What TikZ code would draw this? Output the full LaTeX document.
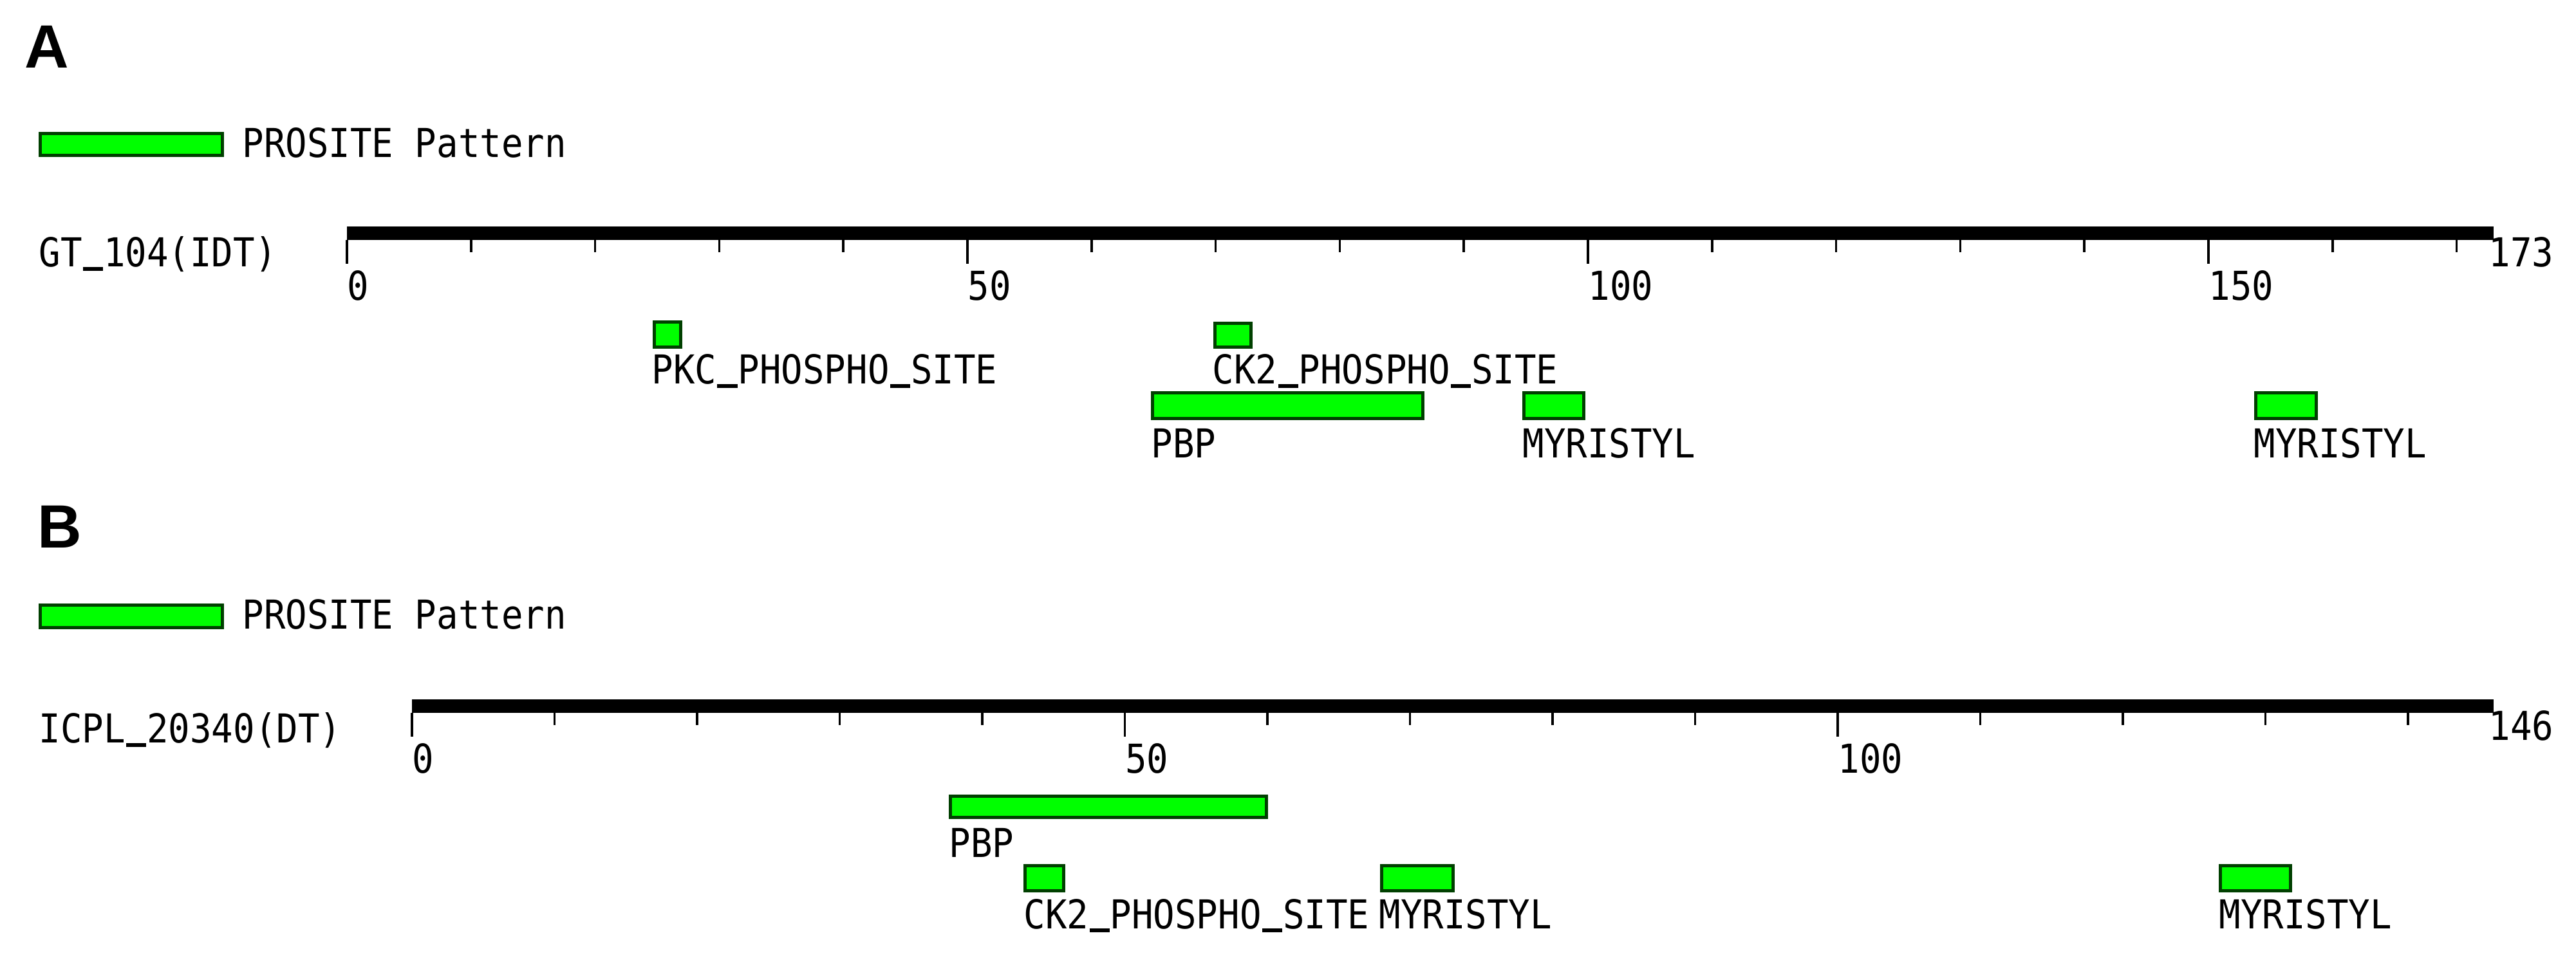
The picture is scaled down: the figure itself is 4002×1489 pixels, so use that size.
\documentclass[tikz,border=0pt]{standalone}
\usepackage{fontspec}
\setmonofont{DejaVu Sans Mono}
\newfontfamily\panelfont{Liberation Sans}
\definecolor{featfill}{RGB}{0,255,0}
\definecolor{featline}{RGB}{0,64,0}
\newcommand{\mtxt}[1]{\scalebox{0.9}[1]{#1}}
\newcommand{\us}{\makebox[0.602em][c]{\rule[-0.09em]{0.56em}{0.09em}}}
\tikzset{
  px/.style={x=0.01cm,y=-0.01cm},
  feat/.style={fill=featfill,draw=featline,line width=0.05cm},
  lbl/.style={anchor=base west,inner sep=0pt,font=\ttfamily\fontsize{17.6}{17.6}\selectfont},
  panel/.style={anchor=base west,inner sep=0pt,font=\panelfont\bfseries\fontsize{27}{27}\selectfont},
  axisbar/.style={fill=black,draw=none},
  tick/.style={line width=0.035cm,black}
}
\begin{document}
\begin{tikzpicture}[px]
\useasboundingbox[fill=white] (0,0) rectangle (4002,1489);

% ================= Panel A =================
\node[panel] (pA) at (38,106) {A};
\draw[feat] (62.5,207.5) rectangle (345.5,241.5);
\node[lbl] (legA) at (376,245) {\mtxt{PROSITE Pattern}};
\node[lbl] (nameA) at (60,415) {\mtxt{GT\us104(IDT)}};
% axis
\fill[axisbar] (539,352) rectangle (3874,373);
\foreach \k in {0,10,...,170}{
  \pgfmathsetmacro{\xx}{539+19.28*\k}
  \draw[tick] (\xx,373) -- (\xx,392);
}
\foreach \k in {0,50,100,150}{
  \pgfmathsetmacro{\xx}{539+19.28*\k}
  \draw[tick] (\xx,373) -- (\xx,410);
  \node[lbl] at (\xx,467) {\mtxt{\k}};
}
\node[lbl] (endA) at (3866,415) {\mtxt{173}};
% feature boxes
\draw[feat] (1016.5,500.5) rectangle (1057.5,539.5);
\draw[feat] (1887.5,502.5) rectangle (1943.5,539.5);
\draw[feat] (1790.5,610.5) rectangle (2210.5,650.5);
\draw[feat] (2367.5,610.5) rectangle (2460.5,650.5);
\draw[feat] (3504.5,610.5) rectangle (3598.5,650.5);
% feature labels
\node[lbl] (pkcA) at (1012,597) {\mtxt{PKC\us PHOSPHO\us SITE}};
\node[lbl] (ck2A) at (1883,597) {\mtxt{CK2\us PHOSPHO\us SITE}};
\node[lbl] (pbpA) at (1788,712) {\mtxt{PBP}};
\node[lbl] (myr1A) at (2365,712) {\mtxt{MYRISTYL}};
\node[lbl] (myr2A) at (3501,712) {\mtxt{MYRISTYL}};

% ================= Panel B =================
\node[panel] (pB) at (58,852) {B};
\draw[feat] (62.5,940.5) rectangle (345.5,975.5);
\node[lbl] (legB) at (376,978) {\mtxt{PROSITE Pattern}};
\node[lbl] (nameB) at (60,1155) {\mtxt{ICPL\us 20340(DT)}};
% axis
\fill[axisbar] (640,1087) rectangle (3874,1108);
\foreach \k in {0,10,...,140}{
  \pgfmathsetmacro{\xx}{640+22.15*\k}
  \draw[tick] (\xx,1108) -- (\xx,1127);
}
\foreach \k in {0,50,100}{
  \pgfmathsetmacro{\xx}{640+22.15*\k}
  \draw[tick] (\xx,1108) -- (\xx,1145);
  \node[lbl] at (\xx,1202) {\mtxt{\k}};
}
\node[lbl] (endB) at (3866,1150) {\mtxt{146}};
% feature boxes
\draw[feat] (1476.5,1237.5) rectangle (1967.5,1270.5);
\draw[feat] (1592.5,1345.5) rectangle (1652.5,1384.5);
\draw[feat] (2146.5,1345.5) rectangle (2257.5,1384.5);
\draw[feat] (3449.5,1345.5) rectangle (3558.5,1384.5);
% feature labels
\node[lbl] (pbpB) at (1474,1332) {\mtxt{PBP}};
\node[lbl] (ck2B) at (1590,1443) {\mtxt{CK2\us PHOSPHO\us SITE}};
\node[lbl] (myr1B) at (2142,1443) {\mtxt{MYRISTYL}};
\node[lbl] (myr2B) at (3447,1443) {\mtxt{MYRISTYL}};
\end{tikzpicture}
\end{document}
